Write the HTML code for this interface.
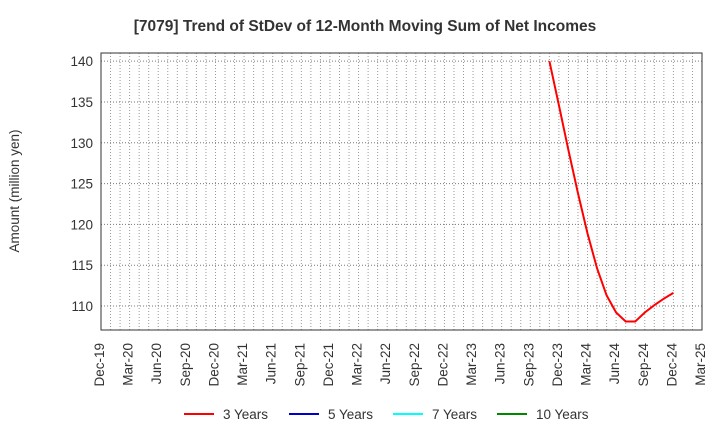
<!DOCTYPE html>
<html><head><meta charset="utf-8"><style>
body{margin:0;background:#fff;font-family:"Liberation Sans",sans-serif}
svg text{font-family:"Liberation Sans",sans-serif}
</style></head><body>
<svg id="c" width="720" height="440" xmlns="http://www.w3.org/2000/svg">
<text x="365" y="31" text-anchor="middle" font-size="15.5" font-weight="bold" fill="#333">[7079]  Trend of StDev of 12-Month Moving Sum of Net Incomes</text>
<text transform="translate(19,191) rotate(-90)" text-anchor="middle" font-size="13.5" fill="#333">Amount (million yen)</text>
<g id="grid"></g><g id="plot"></g><g id="axes"></g>
<g font-size="13.5" fill="#333">
<g><line x1="184" y1="414" x2="214" y2="414" stroke="#f00" stroke-width="2"/><text x="223" y="419">3 Years</text></g>
<g><line x1="289" y1="414" x2="319" y2="414" stroke="#00c" stroke-width="2"/><text x="328" y="419">5 Years</text></g>
<g><line x1="393" y1="414" x2="423" y2="414" stroke="#0ff" stroke-width="2"/><text x="432" y="419">7 Years</text></g>
<g><line x1="497" y1="414" x2="527" y2="414" stroke="#080" stroke-width="2"/><text x="536" y="419">10 Years</text></g>
</g>
</svg>
<script>
const tickLabels=["Dec-19","Mar-20","Jun-20","Sep-20","Dec-20","Mar-21","Jun-21","Sep-21","Dec-21","Mar-22","Jun-22","Sep-22","Dec-22","Mar-23","Jun-23","Sep-23","Dec-23","Mar-24","Jun-24","Sep-24","Dec-24","Mar-25"];
const yTicks=[110,115,120,125,130,135,140];
const seriesStartMonth=47; // Nov-23, months since Dec-19
const series3y=[140.0,134.6,129.1,123.8,118.9,114.6,111.3,109.2,108.1,108.1,109.2,110.1,110.9,111.6];
const L=101,R=702,T=53,B=330,NM=63,YMIN=107.06,YMAX=141;
const NS="http://www.w3.org/2000/svg";
const xs=m=>L+(R-L)*m/NM, ys=v=>B-(B-T)*(v-YMIN)/(YMAX-YMIN);
function mk(p,t,a){const e=document.createElementNS(NS,t);for(const k in a)e.setAttribute(k,a[k]);p.appendChild(e);return e;}
const grid=document.getElementById('grid'),axes=document.getElementById('axes'),plot=document.getElementById('plot');
for(let m=1;m<NM;m++){const l=mk(grid,'line',{x1:xs(m),x2:xs(m),y1:T,y2:B,stroke:'#999','stroke-dasharray':'1,2','stroke-width':1});

}
yTicks.forEach(v=>{const y=ys(v);const l=mk(grid,'line',{x1:L,x2:R,y1:y,y2:y,stroke:'#777','stroke-dasharray':'1,2','stroke-width':1});


const t=mk(axes,'text',{x:L-8,y:y+5,'text-anchor':'end','font-size':13.5,fill:'#333'});t.textContent=v;

});
tickLabels.forEach((s,i)=>{const x=xs(i*3);const t=mk(axes,'text',{transform:`translate(${x+3},${B+13}) rotate(-90)`,'text-anchor':'end','font-size':13.5,fill:'#333'});t.textContent=s;

});
const box=mk(axes,'rect',{x:L,y:T,width:R-L,height:B-T,fill:'none',stroke:'#333','stroke-width':1});


const pts=series3y.map((v,i)=>xs(seriesStartMonth+i).toFixed(1)+','+ys(v).toFixed(1)).join(' ');
const pl=mk(plot,'polyline',{points:pts,fill:'none',stroke:'#f00','stroke-width':2});


</script>
</body></html>
